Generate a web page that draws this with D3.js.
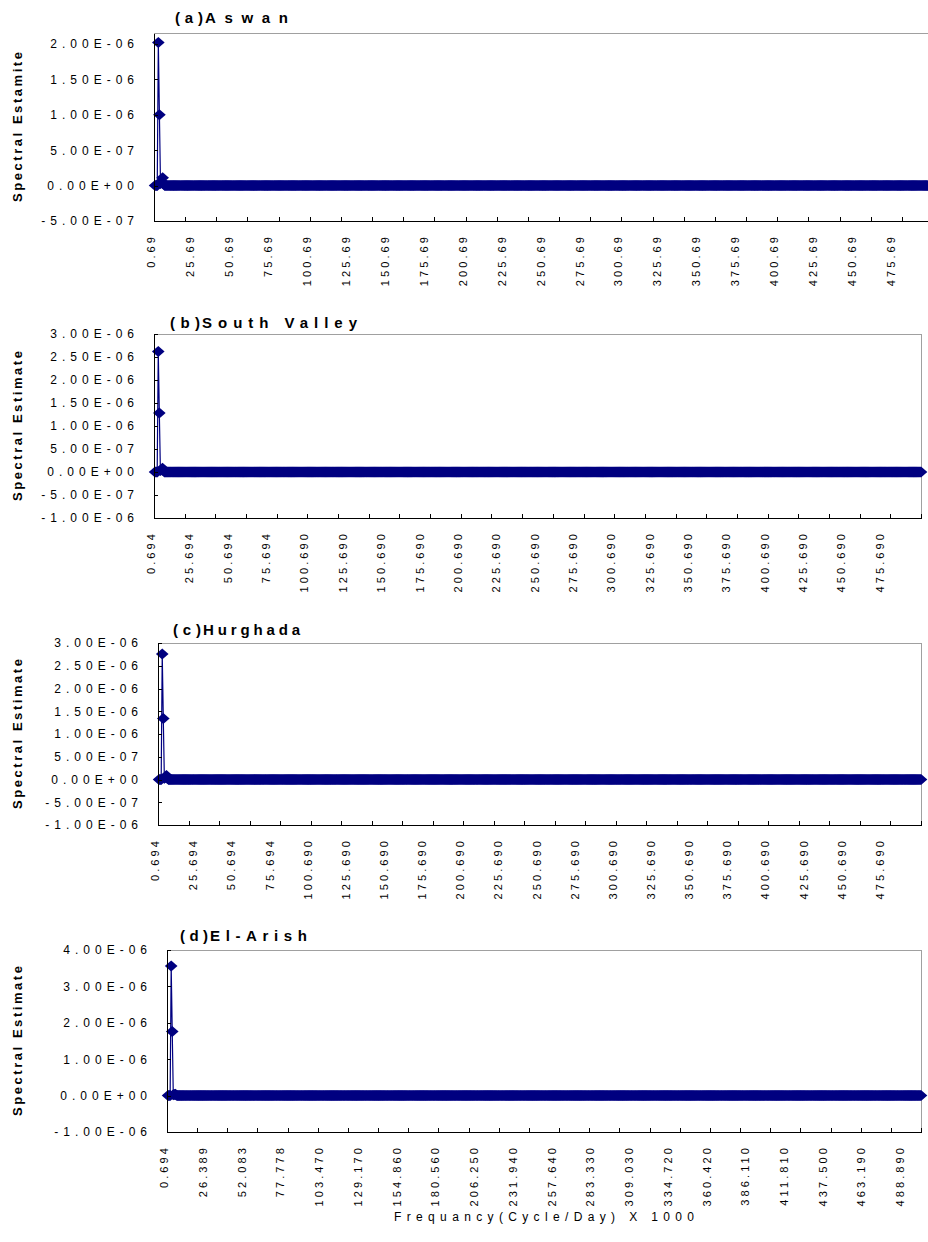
<!DOCTYPE html>
<html>
<head>
<meta charset="utf-8">
<script src="https://cdn.jsdelivr.net/npm/d3@7"></script>
<style>
body { margin: 0; background: #fff; }
svg { display: block; }
text { font-family: "Liberation Sans", Arial, sans-serif; }
</style>
</head>
<body>
<svg id="chart" width="928" height="1242"></svg>
<script>

// frequency bins (cycle/day x 1000), 1/1440 apart
var binStep = 0.69444;
var nBins = 720;

var panelLetters = ['(a)', '(b)', '(c)', '(d)'];
var stationNames = ['Aswan', 'South Valley', 'Hurghada', 'El-Arish'];
var yTitles = ['Spectral Estamite', 'Spectral Estimate', 'Spectral Estimate', 'Spectral Estimate'];

// first bins of each spectrum, all later bins sit on zero
var aswanHead       = [0, 0, 0, 2.02e-6, 1.00e-6, 0.03e-6, 0.06e-6, 0.11e-6, 0.02e-6];
var southValleyHead = [0, 0, 0, 2.62e-6, 1.28e-6, 0.03e-6, 0.05e-6, 0.08e-6, 0.02e-6];
var hurghadaHead    = [0, 0, 0, 2.76e-6, 1.34e-6, 0.03e-6, 0.05e-6, 0.09e-6, 0.02e-6];
var elArishHead     = [0, 0, 0, 3.56e-6, 1.76e-6, 0.02e-6, 0.03e-6, 0.04e-6, 0.01e-6];
var tailValue = 0;

// y ticks
var yTicksA = [-5e-7, 0, 5e-7, 1e-6, 1.5e-6, 2e-6];
var yTicksBC = [-1e-6, -5e-7, 0, 5e-7, 1e-6, 1.5e-6, 2e-6, 2.5e-6, 3e-6];
var yTicksD = [-1e-6, 0, 1e-6, 2e-6, 3e-6, 4e-6];
var yDomains = [[-5e-7, 2.155e-6], [-1e-6, 3e-6], [-1e-6, 3e-6], [-1e-6, 4e-6]];

// x tick labels
var xLabelsA = ['0.69', '25.69', '50.69', '75.69', '100.69', '125.69', '150.69', '175.69', '200.69', '225.69',
    '250.69', '275.69', '300.69', '325.69', '350.69', '375.69', '400.69', '425.69', '450.69', '475.69'];
var xLabelsBC = ['0.694', '25.694', '50.694', '75.694', '100.690', '125.690', '150.690', '175.690', '200.690', '225.690',
    '250.690', '275.690', '300.690', '325.690', '350.690', '375.690', '400.690', '425.690', '450.690', '475.690'];
var xLabelsD = ['0.694', '26.389', '52.083', '77.778', '103.470', '129.170', '154.860', '180.560', '206.250', '231.940',
    '257.640', '283.330', '309.030', '334.720', '360.420', '386.110', '411.810', '437.500', '463.190', '488.890'];
var xTickStep = 20;
var xDomain = [0, 500];

var xTitle = 'Frequancy(Cycle/Day) X 1000';

var navy = '#000080';

// layout of the four plot boxes
var panels = [
    {left: 154, right: 933, top: 33, bottom: 221, head: aswanHead, yTicks: yTicksA, xLabels: xLabelsA,
        titleY: 23, letterX: 175, letterW: 28, nameX: 205, nameW: 83},
    {left: 154, right: 921, top: 334, bottom: 518, head: southValleyHead, yTicks: yTicksBC, xLabels: xLabelsBC,
        titleY: 328, letterX: 170, letterW: 30, nameX: 202, nameW: 155},
    {left: 158, right: 921, top: 643, bottom: 825, head: hurghadaHead, yTicks: yTicksBC, xLabels: xLabelsBC,
        titleY: 635, letterX: 173, letterW: 28, nameX: 203, nameW: 97},
    {left: 167, right: 921, top: 950, bottom: 1132, head: elArishHead, yTicks: yTicksD, xLabels: xLabelsD,
        titleY: 941, letterX: 180, letterW: 28, nameX: 210, nameW: 97}
];

var freqs = d3.range(1, nBins + 1).map(function (k) { return k * binStep; });

function sciFormat(v) {
    var s = v.toExponential(2).toUpperCase();
    return s.replace(/E([+-])(\d)$/, 'E$10$2');
}

// excel style diamond, a little wider than tall
var diamond = {
    draw: function (ctx, size) {
        var r = Math.sqrt(size) / 2;
        ctx.moveTo(0, -r);
        ctx.lineTo(r * 1.15, 0);
        ctx.lineTo(0, r);
        ctx.lineTo(-r * 1.15, 0);
        ctx.closePath();
    }
};

var svg = d3.select('#chart');

panels.forEach(function (p, i) {
    var data = freqs.map(function (f, j) {
        return {f: f, v: j < p.head.length ? p.head[j] : tailValue};
    });

    var x = d3.scaleLinear().domain(xDomain).range([p.left, p.right]);
    var y = d3.scaleLinear().domain(yDomains[i]).range([p.bottom, p.top]);

    var g = svg.append('g');

    // frame, top and right in grey
    g.append('rect')
        .attr('x', p.left)
        .attr('y', p.top)
        .attr('width', p.right - p.left)
        .attr('height', p.bottom - p.top)
        .attr('fill', 'none')
        .attr('stroke', '#a0a0a0')
        .attr('shape-rendering', 'crispEdges');

    // series
    var line = d3.line()
        .x(function (d) { return x(d.f); })
        .y(function (d) { return y(d.v); });

    g.append('path')
        .datum(data)
        .attr('d', line)
        .attr('fill', 'none')
        .attr('stroke', navy)
        .attr('stroke-width', 1.2);

    g.selectAll('path.mk')
        .data(data)
        .enter()
        .append('path')
        .attr('class', 'mk')
        .attr('d', d3.symbol().type(diamond).size(121))
        .attr('transform', function (d) { return 'translate(' + x(d.f) + ',' + y(d.v) + ')'; })
        .attr('fill', navy);

    // y axis
    var yAxis = g.append('g')
        .attr('transform', 'translate(' + p.left + ',0)')
        .call(d3.axisLeft(y)
            .tickValues(p.yTicks)
            .tickFormat(sciFormat)
            .tickSizeInner(-4)
            .tickSizeOuter(0)
            .tickPadding(15));
    yAxis.select('.domain').attr('stroke', '#000').attr('shape-rendering', 'crispEdges');
    yAxis.selectAll('line').attr('stroke', '#000').attr('shape-rendering', 'crispEdges');
    yAxis.selectAll('text')
        .attr('font-family', '"Liberation Sans", Arial, sans-serif')
        .attr('font-size', 12)
        .attr('letter-spacing', 5)
        .attr('fill', '#000');

    // x axis ticks
    var xAxis = g.append('g')
        .attr('transform', 'translate(0,' + p.bottom + ')')
        .call(d3.axisBottom(x)
            .tickValues(d3.range(xDomain[0], xDomain[1] + 1, xTickStep))
            .tickFormat('')
            .tickSizeInner(-4)
            .tickSizeOuter(0));
    xAxis.select('.domain').attr('stroke', '#000').attr('shape-rendering', 'crispEdges');
    xAxis.selectAll('line').attr('stroke', '#000').attr('shape-rendering', 'crispEdges');

    // x labels, rotated
    g.selectAll('text.xl')
        .data(p.xLabels)
        .enter()
        .append('text')
        .attr('class', 'xl')
        .attr('transform', function (d) {
            return 'translate(' + x(parseFloat(d)) + ',' + (p.bottom + 13) + ') rotate(-90)';
        })
        .attr('text-anchor', 'end')
        .attr('font-size', 11)
        .attr('letter-spacing', 3.1)
        .attr('fill', '#000')
        .text(function (d) { return d; });

    // panel title
    g.append('text')
        .attr('x', p.letterX)
        .attr('y', p.titleY)
        .attr('font-size', 15)
        .attr('font-weight', 'bold')
        .attr('textLength', p.letterW)
        .attr('lengthAdjust', 'spacing')
        .text(panelLetters[i]);
    g.append('text')
        .attr('x', p.nameX)
        .attr('y', p.titleY)
        .attr('font-size', 15)
        .attr('font-weight', 'bold')
        .attr('textLength', p.nameW)
        .attr('lengthAdjust', 'spacing')
        .text(stationNames[i]);

    // y title
    g.append('text')
        .attr('transform', 'translate(22,' + ((p.top + p.bottom) / 2 + 75) + ') rotate(-90)')
        .attr('font-size', 13)
        .attr('font-weight', 'bold')
        .attr('textLength', 150)
        .attr('lengthAdjust', 'spacing')
        .text(yTitles[i]);

    if (i === panels.length - 1) {
        g.append('text')
            .attr('x', (p.left + p.right) / 2 - 150)
            .attr('y', 1221)
            .attr('font-size', 12)
            .attr('textLength', 300)
            .attr('lengthAdjust', 'spacing')
            .text(xTitle);
    }
});

</script>
</body>
</html>
